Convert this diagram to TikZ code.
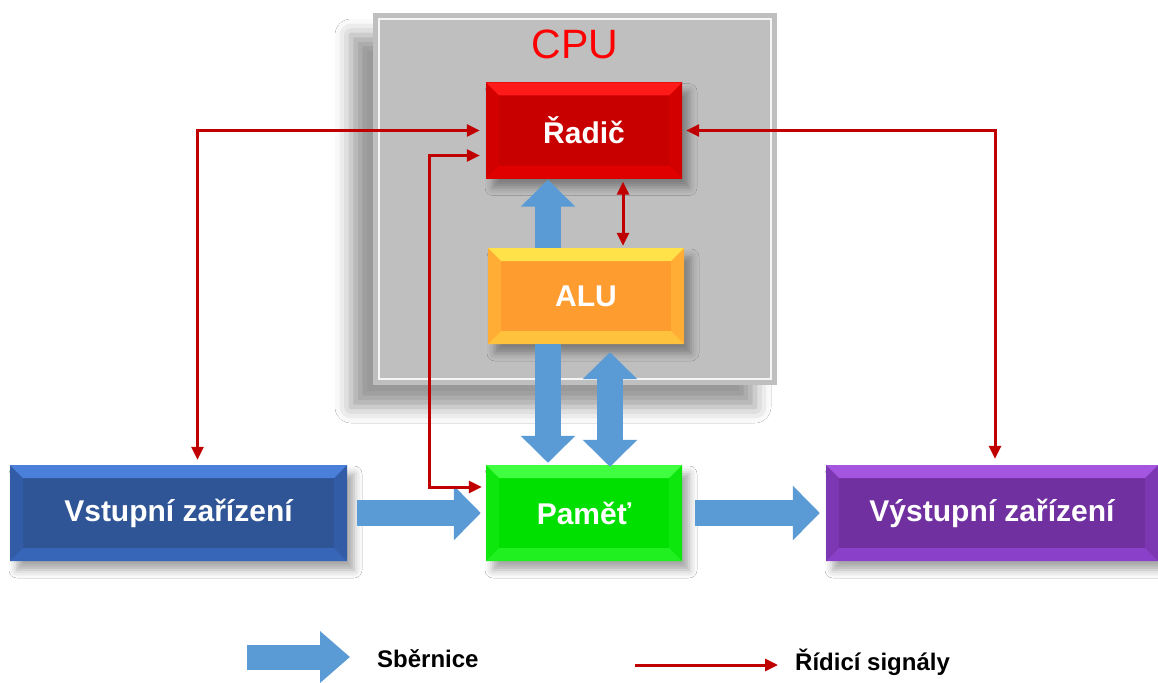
\documentclass[tikz,border=0pt]{standalone}
\usepackage{fontspec}
\setmainfont{Liberation Sans}
\usetikzlibrary{arrows.meta, positioning, calc, shadows.blur}

\definecolor{cpugray}{HTML}{BFBFBF}
\definecolor{sigred}{HTML}{C00000}
\definecolor{busblue}{HTML}{5B9BD5}
\definecolor{radred}{HTML}{C80000}
\definecolor{radtop}{HTML}{FF1A1A}
\definecolor{radbot}{HTML}{E00000}
\definecolor{aluorange}{HTML}{FF9C30}
\definecolor{alutop}{HTML}{FFE24A}
\definecolor{alubot}{HTML}{FFC23C}
\definecolor{pamgreen}{HTML}{00E000}
\definecolor{pamtop}{HTML}{40FF40}
\definecolor{pambot}{HTML}{20F020}
\definecolor{vstblue}{HTML}{2F5597}
\definecolor{vsttop}{HTML}{4B80DA}
\definecolor{vstbot}{HTML}{3766B8}
\definecolor{vyspurple}{HTML}{7030A0}
\definecolor{vystop}{HTML}{A456E0}
\definecolor{vysbot}{HTML}{8A40C8}

\def\ppb{path picture bounding box}

\tikzset{
  blockbox/.style n args={3}{fill=#1, minimum width=196pt, minimum height=96pt,
    inner sep=0pt, text=white, font=\bfseries\fontsize{30}{36}\selectfont,
    blur shadow={shadow xshift=7pt, shadow yshift=-9pt, shadow blur radius=8pt, shadow opacity=35},
    path picture={
      \fill[#1!55!#3] (\ppb.north west) -- ([xshift=13pt,yshift=-13pt]\ppb.north west)
        -- ([xshift=13pt,yshift=13pt]\ppb.south west) -- (\ppb.south west) -- cycle;
      \fill[#1!55!#3] (\ppb.north east) -- ([xshift=-13pt,yshift=-13pt]\ppb.north east)
        -- ([xshift=-13pt,yshift=13pt]\ppb.south east) -- (\ppb.south east) -- cycle;
      \fill[#2] (\ppb.north west) -- (\ppb.north east)
        -- ([xshift=-13pt,yshift=-13pt]\ppb.north east)
        -- ([xshift=13pt,yshift=-13pt]\ppb.north west) -- cycle;
      \fill[#3] (\ppb.south west) -- (\ppb.south east)
        -- ([xshift=-13pt,yshift=13pt]\ppb.south east)
        -- ([xshift=13pt,yshift=13pt]\ppb.south west) -- cycle;
    }},
  sig/.style={draw=sigred, line width=3pt,
    {Triangle[length=13pt,width=12pt]}-{Triangle[length=13pt,width=12pt]}},
  bus/.style={draw=busblue, line width=26pt, -{Triangle[length=27pt,width=53pt]}},
  legtext/.style={anchor=west, inner sep=0pt, font=\bfseries\fontsize{24}{28}\selectfont},
}

\begin{document}
\begin{tikzpicture}[x=1pt, y=-1pt]
    \useasboundingbox[fill=white] (0,0) rectangle (1158,682);

    % CPU frame
    \node[fill=cpugray, minimum width=404pt, minimum height=372pt, inner sep=0pt,
      blur shadow={shadow xshift=-22pt, shadow yshift=-22pt, shadow blur radius=16pt, shadow opacity=40}]
      (cpu) at (575,199) {};
    \draw[white!85!cpugray, line width=2pt] ([shift={(6,6)}]cpu.north west) rectangle ([shift={(-6,-6)}]cpu.south east);
    \node[text=red, inner sep=0pt, font=\fontsize{41}{48}\selectfont, below=17pt of cpu.north] (cputxt) {CPU};

    % Blocks
    \node[blockbox={radred}{radtop}{radbot}] (rad) at (584,130.5) {Řadič};
    \node[blockbox={aluorange}{alutop}{alubot}] (alu) at (586,296) {ALU};
    \node[blockbox={pamgreen}{pamtop}{pambot}] (pam) at (584,513) {Paměť};
    \node[blockbox={vstblue}{vsttop}{vstbot}, minimum width=337pt] (vst) at (178.5,513) {Vstupní zařízení};
    \node[blockbox={vyspurple}{vystop}{vysbot}, minimum width=332pt] (vys) at (992,513) {Výstupní zařízení};

    % Buses
    \draw[bus] ([xshift=10pt]vst.east) -- ([xshift=-5pt]pam.west);
    \draw[bus] ([xshift=13pt]pam.east) -- ([xshift=-6pt]vys.west);
    \draw[bus] ([xshift=-38pt]alu.north) -- ([xshift=-36pt,yshift=-1pt]rad.south);
    \draw[bus] ([xshift=-38pt]alu.south) -- ([xshift=-36pt,yshift=2pt]pam.north);
    \draw[bus, {Triangle[length=27pt,width=53pt]}-{Triangle[length=27pt,width=53pt]}]
      ([xshift=24pt,yshift=-8pt]alu.south) -- ([xshift=26pt,yshift=-2pt]pam.north);

    % Control signals
    \draw[sig, shorten <=5pt, shorten >=6pt] ([xshift=19pt]vst.north) |- (rad.west);
    \draw[sig, shorten <=6pt, shorten >=4pt] ([yshift=-25pt]rad.west)
      -| ([xshift=-56pt,yshift=26pt]pam.west) -- ([yshift=26pt]pam.west);
    \draw[sig, shorten <=4pt, shorten >=6pt] (rad.east) -| ([xshift=3pt]vys.north);
    \draw[sig, shorten <=3pt, shorten >=2pt] ([xshift=39pt]rad.south) -- ([xshift=37pt]alu.north);

    % Legend
    \coordinate (busA) at (247,657);
    \coordinate (busB) at (350,657);
    \draw[bus, line width=25pt, -{Triangle[length=30pt,width=50pt]}] (busA) -- (busB);
    \node[legtext] (bustxt) at (377,659) {Sběrnice};
    \coordinate (sigA) at (635,665);
    \coordinate (sigB) at (778,665);
    \draw[draw=sigred, line width=3pt, -{Triangle[length=13pt,width=12pt]}] (sigA) -- (sigB);
    \node[legtext] (sigtxt) at (795,662) {Řídicí signály};
\end{tikzpicture}
\end{document}
